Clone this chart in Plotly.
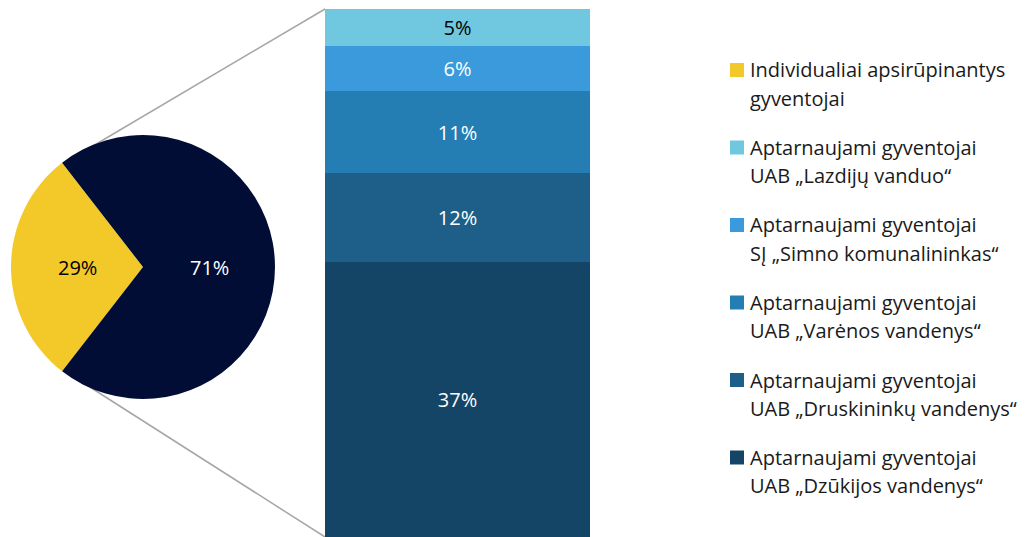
import math
import plotly.graph_objects as go

# ---------------- data ----------------
pie_labels = ["Individualiai apsirūpinantys gyventojai", "Aptarnaujami gyventojai"]
pie_values = [29, 71]
pie_colors = ["#F2C928", "#020D35"]
pie_text_colors = ["#000000", "#FFFFFF"]

# stacked bar, bottom to top
bar_labels = [
    "Aptarnaujami gyventojai UAB „Dzūkijos vandenys“",
    "Aptarnaujami gyventojai UAB „Druskininkų vandenys“",
    "Aptarnaujami gyventojai UAB „Varėnos vandenys“",
    "Aptarnaujami gyventojai SĮ „Simno komunalininkas“",
    "Aptarnaujami gyventojai UAB „Lazdijų vanduo“",
]
bar_values = [37, 12, 11, 6, 5]
bar_colors = ["#144466", "#1D5F88", "#247DB3", "#3A9ADB", "#70C8E0"]
bar_text_colors = ["#FFFFFF", "#FFFFFF", "#FFFFFF", "#FFFFFF", "#000000"]

# legend (top to bottom)
legend_lines = [
    ("Individualiai apsirūpinantys", "gyventojai"),
    ("Aptarnaujami gyventojai", "UAB „Lazdijų vanduo“"),
    ("Aptarnaujami gyventojai", "SĮ „Simno komunalininkas“"),
    ("Aptarnaujami gyventojai", "UAB „Varėnos vandenys“"),
    ("Aptarnaujami gyventojai", "UAB „Druskininkų vandenys“"),
    ("Aptarnaujami gyventojai", "UAB „Dzūkijos vandenys“"),
]
legend_colors = ["#F2C928", "#70C8E0", "#3A9ADB", "#247DB3", "#1D5F88", "#144466"]

# ---------------- layout helpers ----------------
W, H = 1035, 537
FONT = "Open Sans"
def px(x):
    return x / W
def py(y):
    return 1 - y / H

PIE_CX, PIE_CY, PIE_R = 143, 267, 132
ROTATION = 217.8

fig = go.Figure()

fig.add_trace(go.Pie(
    labels=pie_labels, values=pie_values,
    marker=dict(colors=pie_colors, line=dict(width=0)),
    sort=False, direction="clockwise", rotation=ROTATION,
    textinfo="none",
    domain=dict(x=[px(PIE_CX - PIE_R), px(PIE_CX + PIE_R)],
                y=[py(PIE_CY + PIE_R), py(PIE_CY - PIE_R)]),
    showlegend=False, hoverinfo="label+value",
))

for lab, val, col, tcol in zip(bar_labels, bar_values, bar_colors, bar_text_colors):
    fig.add_trace(go.Bar(
        x=[0], y=[val], name=lab,
        marker=dict(color=col, line=dict(width=0)),
        text=[f"{val}%"], textposition="inside", insidetextanchor="middle",
        textfont=dict(family=FONT, size=20, color=tcol),
        showlegend=False,
    ))

annotations = []
# pie value labels at half radius along each slice's mid-angle
total = sum(pie_values)
start = ROTATION
for val, tcol in zip(pie_values, pie_text_colors):
    mid = math.radians(start + 360 * val / total / 2)
    x = PIE_CX + 0.5 * PIE_R * math.sin(mid)
    y = PIE_CY - 0.5 * PIE_R * math.cos(mid)
    annotations.append(dict(xref="paper", yref="paper", x=px(x), y=py(y),
                            xanchor="center", yanchor="middle", text=f"{val}%", showarrow=False,
                            font=dict(family=FONT, size=20, color=tcol)))
    start += 360 * val / total

shapes = [
    dict(type="line", xref="paper", yref="paper", x0=px(81), y0=py(153), x1=px(325), y1=py(9),
         line=dict(color="#A6A6A6", width=1.5), layer="below"),
    dict(type="line", xref="paper", yref="paper", x0=px(82), y0=py(382), x1=px(325), y1=py(537),
         line=dict(color="#A6A6A6", width=1.5), layer="below"),
]
for i, ((l1, l2), col) in enumerate(zip(legend_lines, legend_colors)):
    yc = 70 + 77.5 * i
    shapes.append(dict(type="rect", xref="paper", yref="paper",
                       x0=px(730), x1=px(744), y0=py(yc - 7), y1=py(yc + 7),
                       fillcolor=col, line=dict(width=0)))
    for j, t in enumerate((l1, l2)):
        annotations.append(dict(xref="paper", yref="paper", x=px(748), y=py(yc + 28 * j),
                                xanchor="left", yanchor="middle", text=t, showarrow=False,
                                font=dict(family=FONT, size=20, color="#1A1A1A")))

fig.update_layout(
    width=W, height=H, margin=dict(l=0, r=0, t=0, b=0),
    paper_bgcolor="white", plot_bgcolor="white",
    barmode="stack", bargap=0,
    xaxis=dict(domain=[px(325), px(590)], range=[-0.5, 0.5], visible=False, fixedrange=True),
    yaxis=dict(domain=[0, py(9)], range=[0, sum(bar_values)], visible=False, fixedrange=True),
    shapes=shapes, annotations=annotations,
    uniformtext=dict(minsize=20, mode="show"),
)

fig.write_html("out.html", config={"displayModeBar": False},
               post_script="document.body.style.margin='0px';")
